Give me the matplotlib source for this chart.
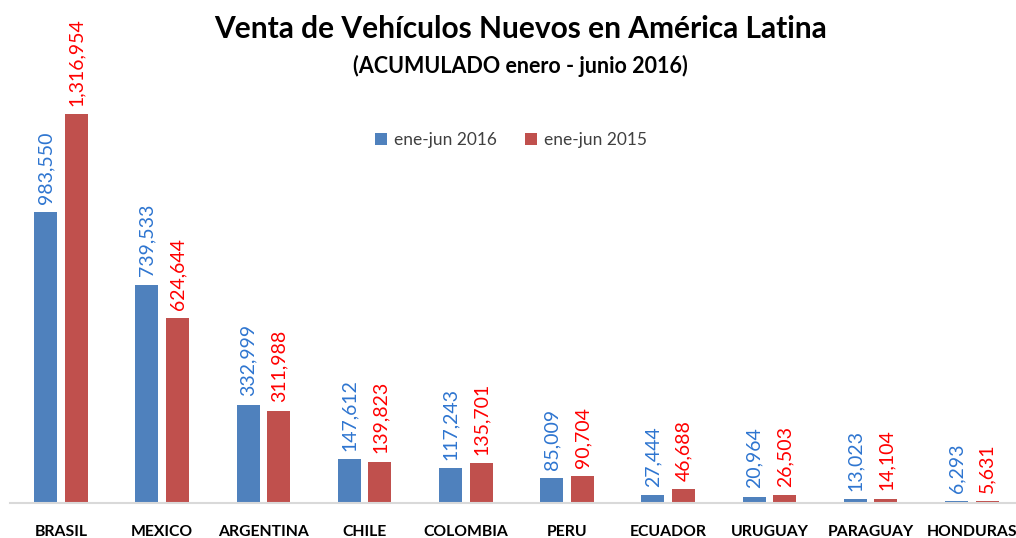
import matplotlib
matplotlib.use("Agg")
import matplotlib.pyplot as plt
import numpy as np

categories = ["BRASIL", "MEXICO", "ARGENTINA", "CHILE", "COLOMBIA", "PERU",
              "ECUADOR", "URUGUAY", "PARAGUAY", "HONDURAS"]
ventas_2016 = [983550, 739533, 332999, 147612, 117243, 85009, 27444, 20964, 13023, 6293]
ventas_2015 = [1316954, 624644, 311988, 139823, 135701, 90704, 46688, 26503, 14104, 5631]
series_names = ["ene-jun 2016", "ene-jun 2015"]

plt.rcParams['font.family'] = ['Lato', 'DejaVu Sans']

fig = plt.figure(figsize=(10.16, 5.38), dpi=100)
ax = fig.add_axes([10.4 / 1016, 35 / 538, 1012 / 1016, (503 - 89.4) / 538])

x = np.arange(len(categories))
w = 0.227
off = 0.152
c16, c15 = "#4F81BD", "#C0504D"
b1 = ax.bar(x - off, ventas_2016, width=w, color=c16, label=series_names[0])
b2 = ax.bar(x + off, ventas_2015, width=w, color=c15, label=series_names[1])

for rects, vals, col in ((b1, ventas_2016, "#2E75D0"), (b2, ventas_2015, "#FF0000")):
    for r, v in zip(rects, vals):
        ax.annotate(f"{v:,}", (r.get_x() + r.get_width() / 2, r.get_height()),
                    xytext=(0, 6), textcoords="offset points", rotation=90,
                    ha="center", va="bottom", color=col, fontsize=14)

ax.set_xlim(-0.5, len(categories) - 0.5)
ax.set_ylim(0, 1400000)
ax.set_yticks([])
ax.set_xticks(x)
ax.set_xticklabels(categories, fontsize=11.3, fontweight="bold", color="black")
ax.tick_params(axis="x", length=0, pad=16)
for s in ("top", "right", "left"):
    ax.spines[s].set_visible(False)
ax.spines["bottom"].set_color("#D9D9D9")
ax.spines["bottom"].set_linewidth(1.5)

fig.text(0.512, 1 - 29 / 538, "Venta de Vehículos Nuevos en América Latina",
         ha="center", va="center", fontsize=21.5, fontweight="bold", color="black")
fig.text(0.512, 1 - 66 / 538, "(ACUMULADO enero - junio 2016)",
         ha="center", va="center", fontsize=15.5, fontweight="bold", color="black")

leg = ax.legend(loc="center", bbox_to_anchor=(511 / 1016, 1 - 140 / 538),
                bbox_transform=fig.transFigure, ncol=2, frameon=False,
                fontsize=12.5, handlelength=0.7, handleheight=0.7,
                columnspacing=1.6, handletextpad=0.4)
for t in leg.get_texts():
    t.set_color("#404040")

fig.savefig("out.png", dpi=100)
